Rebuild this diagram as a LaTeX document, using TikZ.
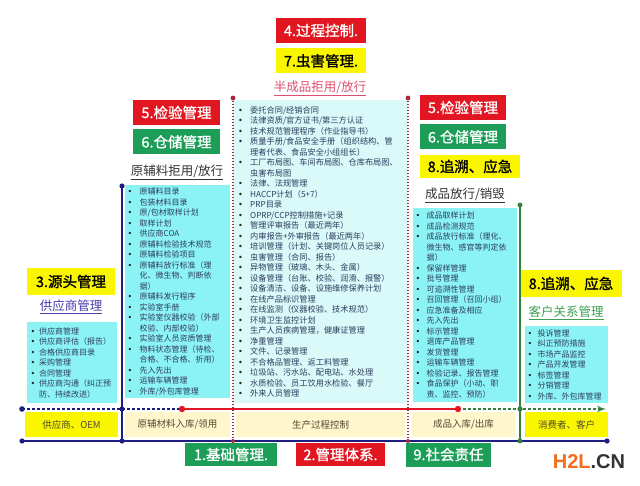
\documentclass[tikz,border=0pt]{standalone}
\usepackage{fontspec}
\setmainfont{Noto Sans CJK SC}
\newfontfamily\hdfont{Noto Sans CJK SC}[FakeBold=1.2]
\newfontfamily\blfont{DejaVu Sans}
\newfontfamily\wmfont{Liberation Sans}
\usepackage{tikz}
\usetikzlibrary{arrows}
\usetikzlibrary{positioning}

\definecolor{hred}{RGB}{226,22,32}
\definecolor{hgreen}{RGB}{28,158,88}
\definecolor{hyellow}{RGB}{250,246,0}
\definecolor{lyellow}{RGB}{255,246,204}
\definecolor{bcyan}{RGB}{140,243,245}
\definecolor{lcyan}{RGB}{218,249,249}
\definecolor{navy}{RGB}{30,30,130}
\definecolor{dred}{RGB}{170,40,60}
\definecolor{lgreen}{RGB}{50,130,60}
\definecolor{listtxt}{RGB}{45,60,95}
\definecolor{pinktxt}{RGB}{220,80,110}
\definecolor{suptxt}{RGB}{70,60,170}
\definecolor{custtxt}{RGB}{60,160,80}
\definecolor{celltxt}{RGB}{80,75,50}
\definecolor{wmorange}{RGB}{240,110,30}

\newlength{\itw}
\newcommand{\itm}{\makebox[\itw][l]{\textcolor{black!85}{\blfont\textbullet}}}
\newcommand{\cnt}{\hspace*{\itw}}

\begin{document}
\begin{tikzpicture}[x=1pt, y=-1pt, >=latex']
	\tikzstyle{hbox}=[rectangle, minimum width=88pt, minimum height=25pt, inner sep=0pt, font=\hdfont\fontsize{14.5}{16}\selectfont]
	\tikzstyle{redbox}=[hbox, fill=hred, text=white]
	\tikzstyle{greenbox}=[hbox, fill=hgreen, text=white]
	\tikzstyle{yellowbox}=[hbox, fill=hyellow, text=black]
	\tikzstyle{sub}=[inner sep=1pt, font=\fontsize{12.5}{14}\selectfont]
	\tikzstyle{list}=[rectangle, anchor=north west, align=left, inner ysep=0pt, text=listtxt, font=\fontsize{8}{10.5}\selectfont]
	\tikzstyle{cell}=[rectangle, minimum height=25pt, inner sep=0pt, text=celltxt, font=\fontsize{9.5}{11}\selectfont]
	\tikzstyle{navyline}=[draw=navy, line width=1.8pt]
	\tikzstyle{dotline}=[draw=dred, line width=1.4pt, dash pattern=on 1.4pt off 1.6pt]
	\tikzstyle{greenline}=[draw=lgreen, line width=1.5pt]
	
	\useasboundingbox (0,0) rectangle (640,486);
	\fill[white] (0,0) rectangle (640,486);
	
	% top
	\node[redbox, minimum width=90pt] (ctl) at (321,30.5) {4.过程控制.};
	\node[yellowbox, minimum width=90pt] (pest) [below=5pt of ctl] {7.虫害管理.};
	\node[sub, text=pinktxt] (semihd) at (320,88) {\underline{半成品拒用/放行}};
	
	% left
	\node[redbox, minimum width=87pt] (chkL) at (176.5,112.5) {5.检验管理};
	\node[greenbox, minimum width=87pt] (stoL) [below=4pt of chkL] {6.仓储管理};
	\node[sub, text=black!80] (rawhd) at (177,172) {\underline{原辅料拒用/放行}};
	
	\node[yellowbox, minimum height=27pt] (src) at (71,281.5) {3.源头管理};
	\node[sub, text=suptxt] (suphd) at (71,307) {\underline{供应商管理}};
	
	% right
	\node[redbox, minimum width=86pt] (chkR) at (463,107.5) {5.检验管理};
	\node[greenbox, minimum width=86pt] (stoR) [below=4pt of chkR] {6.仓储管理};
	\node[yellowbox, minimum width=100pt, minimum height=23pt] (traceR) at (470,166.5) {8.追溯、应急};
	\node[sub, text=black!80] (finhd) at (465,195) {\underline{成品放行/销毁}};
	
	\node[yellowbox, minimum width=102pt, minimum height=27pt] (traceC) at (571,283.5) {8.追溯、应急};
	\node[sub, text=custtxt] (custhd) at (566,313) {\underline{客户关系管理}};
	
	% lists
	\node[list, fill=bcyan, inner xsep=3.5pt, text width=83pt, minimum height=81pt, execute at begin node=\setlength{\itw}{8.5pt}] (suplist) at (27,322) {
		\itm 供应商管理\\
		\itm 供应商评估（报告）\\
		\itm 合格供应商目录\\
		\itm 采购管理\\
		\itm 合同管理\\
		\itm 供应商沟通（纠正预\\
		\cnt 防、持续改进）};
	
	\node[list, fill=bcyan, inner xsep=2.5pt, text width=100pt, minimum height=213pt, execute at begin node=\setlength{\itw}{12pt}] (rawlist) at (125,185) {
		\itm 原辅料目录\\
		\itm 包装材料目录\\
		\itm 原/包材取样计划\\
		\itm 取样计划\\
		\itm 供应商COA\\
		\itm 原辅料检验技术规范\\
		\itm 原辅料检验项目\\
		\itm 原辅料放行标准（理\\
		\cnt 化、微生物、判断依\\
		\cnt 据）\\
		\itm 原辅料发行程序\\
		\itm 实验室手册\\
		\itm 实验室仪器校验（外部\\
		\cnt 校验、内部校验）\\
		\itm 实验室人员资质管理\\
		\itm 物料状态管理（待检、\\
		\cnt 合格、不合格、折用）\\
		\itm 先入先出\\
		\itm 运输车辆管理\\
		\itm 外库/外包库管理};
	
	\node[list, fill=lcyan, inner xsep=5pt, text width=165pt, minimum height=303pt, font=\fontsize{8.2}{10.5}\selectfont, execute at begin node=\setlength{\itw}{12pt}] (prolist) at (233,100) {
		\itm 委托合同/经销合同\\
		\itm 法律资质/官方证书/第三方认证\\
		\itm 技术规范管理程序（作业指导书）\\
		\itm 质量手册/食品安全手册（组织结构、管\\
		\cnt 理者代表、食品安全小组组长）\\
		\itm 工厂布局图、车间布局图、仓库布局图、\\
		\cnt 虫害布局图\\
		\itm 法律、法规管理\\
		\itm HACCP计划（5+7）\\
		\itm PRP目录\\
		\itm OPRP/CCP控制措施+记录\\
		\itm 管理评审报告（最近两年）\\
		\itm 内审报告+外审报告（最近两年）\\
		\itm 培训管理（计划、关键岗位人员记录）\\
		\itm 虫害管理（合同、报告）\\
		\itm 异物管理（玻璃、木头、金属）\\
		\itm 设备管理（台账、校验、润滑、报警）\\
		\itm 设备清洁、设备、设施维修保养计划\\
		\itm 在线产品标识管理\\
		\itm 在线监测（仪器校验、技术规范）\\
		\itm 环境卫生监控计划\\
		\itm 生产人员疾病管理，健康证管理\\
		\itm 净重管理\\
		\itm 文件、记录管理\\
		\itm 不合格品管理、返工料管理\\
		\itm 垃圾站、污水站、配电站、水处理\\
		\itm 水质检验、员工饮用水检验、餐厅\\
		\itm 外来人员管理};
	
	\node[list, fill=bcyan, inner xsep=2.5pt, text width=99pt, minimum height=194pt, execute at begin node=\setlength{\itw}{11pt}] (finlist) at (413,208) {
		\itm 成品取样计划\\
		\itm 成品检测规范\\
		\itm 成品放行标准（理化、\\
		\cnt 微生物、感官等判定依\\
		\cnt 据）\\
		\itm 保留样管理\\
		\itm 批号管理\\
		\itm 可追溯性管理\\
		\itm 召回管理（召回小组）\\
		\itm 应急准备及相应\\
		\itm 先入先出\\
		\itm 标示管理\\
		\itm 退库产品管理\\
		\itm 发货管理\\
		\itm 运输车辆管理\\
		\itm 检验记录、报告管理\\
		\itm 食品保护（小动、职\\
		\cnt 责、监控、预防）};
	
	\node[list, fill=bcyan, inner xsep=2.5pt, text width=78pt, minimum height=77pt, execute at begin node=\setlength{\itw}{10pt}] (custlist) at (525,326) {
		\itm 投诉管理\\
		\itm 纠正预防措施\\
		\itm 市场产品监控\\
		\itm 产品开发管理\\
		\itm 标签管理\\
		\itm 分销管理\\
		\itm 外库、外包库管理};
	
	% bottom row
	\node[cell, fill=hyellow, minimum width=93pt] (cSup) at (71.5,424.5) {供应商、OEM};
	\node[cell, fill=lyellow, minimum width=105pt] (cRaw) at (177.5,424.5) {原辅材料入库/领用};
	\node[cell, fill=lyellow, minimum width=169pt] (cPro) at (320.5,424.5) {生产过程控制};
	\node[cell, fill=lyellow, minimum width=103pt] (cFin) at (463.5,424.5) {成品入库/出库};
	\node[cell, fill=hyellow, minimum width=83pt] (cCus) at (566.5,424.5) {消费者、客户};
	
	\node[greenbox, minimum width=92pt, minimum height=23pt] (base) at (231,454.5) {1.基础管理.};
	\node[redbox, minimum width=89pt, minimum height=23pt] (sys) at (340.5,454.5) {2.管理体系.};
	\node[greenbox, minimum width=85pt, minimum height=24pt] (soc) at (448.5,454.5) {9.社会责任};
	
	\node[inner sep=0pt, font=\wmfont\bfseries\fontsize{20}{20}\selectfont] (wm) at (589,462) {\textcolor{wmorange}{H2L}\textcolor{black!80}{.CN}};
	
	% lines
	\coordinate (v1t) at (122,186);
	\coordinate (v2t) at (233,98);
	\coordinate (v3t) at (408,98);
	\coordinate (v4t) at (520,205);
	\coordinate (d0) at (22,409);
	\coordinate (d1) at (122,409);
	\coordinate (d2) at (182,409);
	\coordinate (d3) at (458,409);
	\coordinate (d4) at (520,409);
	\coordinate (d5) at (606,409);
	\coordinate (b0) at (22,441);
	\coordinate (b1) at (122,441);
	\coordinate (b2) at (233,441);
	\coordinate (b3) at (408,441);
	\coordinate (b4) at (520,441);
	\coordinate (b5) at (607,441);
	
	\path (v1t) edge [navyline] (b1)
	(v2t) edge [dotline] (b2)
	(v3t) edge [dotline] (b3)
	(v4t) edge [greenline] (b4)
	(b0) edge [draw=navy, line width=1.5pt] (b5)
	(d0) edge [draw=navy, line width=2pt, dash pattern=on 3pt off 2pt] (d2)
	(d2) edge [draw=hred, line width=2.5pt] (d3)
	(d3) edge [draw=lgreen, line width=2pt, dash pattern=on 3pt off 2pt, -latex'] (d5);
	
	\fill[navy] (v1t) circle (2.6pt);
	\fill[navy] (d0) circle (2.8pt);
	\fill[navy] (d1) circle (2.6pt);
	\fill[navy] (b0) circle (2.6pt);
	\fill[navy] (b1) circle (2.6pt);
	\fill[navy] (b5) circle (2.6pt);
	\fill[dred] (v2t) circle (2.4pt);
	\fill[dred] (v3t) circle (2.4pt);
	\fill[dred] (b2) circle (2pt);
	\fill[dred] (b3) circle (2pt);
	\fill[hred] (d2) circle (3.2pt);
	\fill[hred] (d3) circle (3.2pt);
	\fill[lgreen] (v4t) circle (2.4pt);
	\fill[lgreen] (d4) circle (2.6pt);
	\fill[lgreen] (b4) circle (2.4pt);
	
\end{tikzpicture}
\end{document}
